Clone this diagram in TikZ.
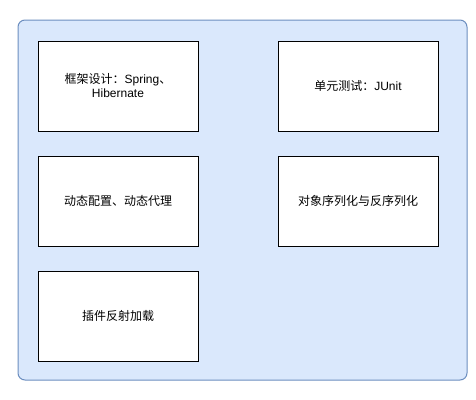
\documentclass[tikz,border=0pt]{standalone}
\usepackage{fontspec}
\setmainfont{Liberation Sans}
\newfontfamily\cjk{Noto Sans CJK SC}
\definecolor{bgfill}{HTML}{DAE8FC}
\definecolor{bgline}{HTML}{6C8EBF}
\begin{document}
\begin{tikzpicture}[x=1pt,y=-1pt,
  box/.style={draw=black, fill=white, line width=1pt, minimum width=160pt, minimum height=90pt, anchor=north west, inner sep=0pt, align=center, font=\fontsize{12}{14}\selectfont}]
\useasboundingbox (0,0) rectangle (476,399);
\draw[fill=bgfill, draw=bgline, line width=1pt, rounded corners=7pt] (18,20) rectangle (467,380);
\node[box] (a) at (37.5,40.5) {{\cjk 框架设计：}Spring{\cjk 、}\\Hibernate};
\node[box] (b) at (277.5,40.5) {{\cjk 单元测试：}JUnit};
\node[box] (c) at (37.5,155.5) {{\cjk 动态配置、动态代理}};
\node[box] (d) at (277.5,155.5) {{\cjk 对象序列化与反序列化}};
\node[box] (e) at (37.5,270.5) {{\cjk 插件反射加载}};
\end{tikzpicture}
\end{document}
